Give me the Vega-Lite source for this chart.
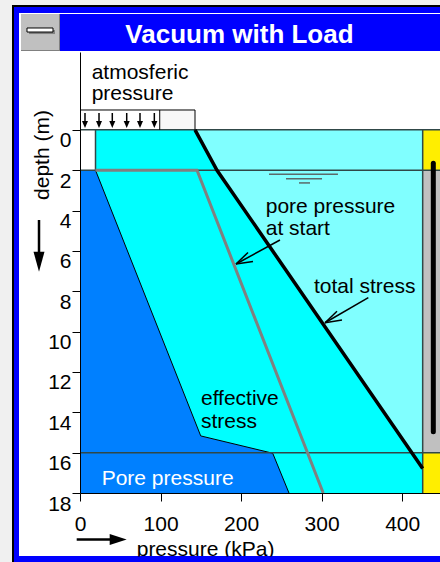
{
  "$schema": "https://vega.github.io/schema/vega-lite/v6.json",
  "width": 360,
  "height": 441,
  "autosize": {"type": "none"},
  "padding": {"left": 80, "top": 52, "right": 0, "bottom": 69},
  "background": "#f0f0f0",
  "config": {"view": {"stroke": null}, "font": "Liberation Sans"},
  "datasets": {
    "rects": [
      {"part": "outer", "p": -84.43, "p2": 460, "d": -6.19, "d2": 22},
      {"part": "border", "p": -81.95, "p2": 460, "d": -6.09, "d2": 22},
      {"part": "content", "p": -75.74, "p2": 460, "d": -5.79, "d2": 21.12},
      {"part": "titlebar", "p": -73.26, "p2": 460, "d": -5.74, "d2": -3.91},
      {"part": "menu shadow", "p": -73.26, "p2": -24.83, "d": -5.74, "d2": -3.91},
      {"part": "menu", "p": -73.26, "p2": -26.08, "d": -5.74, "d2": -3.96},
      {"part": "button shadow", "p": -63.33, "p2": -31.04, "d": -4.95, "d2": -4.75},
      {"part": "soil above", "p": 19.25, "p2": 425.5, "d": 0, "d2": 16},
      {"part": "soil below", "p": 19.25, "p2": 425.5, "d": 16, "d2": 18},
      {"part": "drain top", "p": 425.5, "p2": 460, "d": 0, "d2": 2},
      {"part": "drain", "p": 425.5, "p2": 460, "d": 2, "d2": 16},
      {"part": "drain bottom", "p": 425.5, "p2": 460, "d": 16, "d2": 18},
      {"part": "vacuum", "p": 0, "p2": 99, "d": -0.985, "d2": 0},
      {"part": "load", "p": 99, "p2": 142.8, "d": -0.985, "d2": 0}
    ],
    "cyanArea": [
      {"d": 0, "p": 19.25, "p2": 142.8},
      {"d": 2, "p": 19.25, "p2": 170.1},
      {"d": 16, "p": 19.25, "p2": 412.0}
    ],
    "blueArea": [
      {"d": 2, "p": 0, "p2": 19.25},
      {"d": 15.17, "p": 0, "p2": 149.9},
      {"d": 16.03, "p": 0, "p2": 239.3},
      {"d": 18, "p": 0, "p2": 259.5}
    ],
    "totalStress": [
      {"p": 142.8, "d": 0},
      {"p": 170.1, "d": 2},
      {"p": 425.5, "d": 16.78}
    ],
    "poreStart": [
      {"p": 19.25, "d": 2},
      {"p": 145.3, "d": 2},
      {"p": 302, "d": 18}
    ],
    "hlines": [
      {"p": 0, "p2": 460, "d": 0},
      {"p": 0, "p2": 460, "d": 2},
      {"p": 0, "p2": 460, "d": 16}
    ],
    "vlines": [
      {"p": 19.25, "d": 0, "d2": 2},
      {"p": 425.5, "d": 0, "d2": 18}
    ],
    "boxLines": [
      {"p": 0, "p2": 142.8, "d": -0.985, "d2": -0.985},
      {"p": 142.8, "p2": 142.8, "d": -0.985, "d2": 0},
      {"p": 99, "p2": 99, "d": -0.985, "d2": 0}
    ],
    "waterTable": [
      {"p": 234.7, "p2": 320.3, "d": 2.2},
      {"p": 255.8, "p2": 300.5, "d": 2.42},
      {"p": 271.9, "p2": 285.6, "d": 2.63}
    ],
    "gauge": [{"p": 438.7, "d": 1.66, "d2": 14.96}],
    "pointers": [
      {"p": 248.3, "d": 5.46, "p2": 193.7, "d2": 6.65},
      {"p": 193.7, "d": 6.65, "p2": 214.8, "d2": 6.525},
      {"p": 193.7, "d": 6.65, "p2": 208.6, "d2": 6.079},
      {"p": 358, "d": 8.32, "p2": 304.2, "d2": 9.56},
      {"p": 304.2, "d": 9.56, "p2": 325.3, "d2": 9.43},
      {"p": 304.2, "d": 9.56, "p2": 319.1, "d2": 8.99}
    ],
    "atmArrows": [
      {"p": 6.2, "d": -0.836, "d2": -0.266},
      {"p": 23.6, "d": -0.836, "d2": -0.266},
      {"p": 40.1, "d": -0.836, "d2": -0.266},
      {"p": 58, "d": -0.836, "d2": -0.266},
      {"p": 74.5, "d": -0.836, "d2": -0.266},
      {"p": 92.3, "d": -0.836, "d2": -0.266}
    ],
    "axisArrows": [
      {"dir": "down", "p": -50.9, "d": 4.468, "p2": -50.9, "d2": 6.535},
      {"dir": "right", "p": -4.1, "d": 20.3, "p2": 47.4, "d2": 20.3}
    ],
    "labels": [
      {"text": "atmosferic", "p": 14.5, "d": -2.541},
      {"text": "pressure", "p": 14.5, "d": -1.471},
      {"text": "pore pressure", "p": 230.6, "d": 4.10},
      {"text": "at start", "p": 230.6, "d": 5.21},
      {"text": "total stress", "p": 290.5, "d": 8.09},
      {"text": "effective", "p": 150.2, "d": 13.64},
      {"text": "stress", "p": 150.2, "d": 14.78},
      {"text": "pressure (kPa)", "p": 70.4, "d": 21.12}
    ],
    "whiteLabels": [{"text": "Pore pressure", "p": 26.9, "d": 17.6}],
    "yTitle": [{"text": "depth (m)", "p": -39.1, "d": 1.246}],
    "windowTitle": [{"text": "Vacuum with Load", "p": 198, "d": -4.291}],
    "button": [{"p": -65.81, "p2": -33.52, "d": -5.05, "d2": -4.85}],
    "bottomBorder": [{"p": -81.95, "p2": 460, "d": 21.15, "d2": 22}]
  },
  "layer": [
    {
      "data": {"name": "rects"},
      "mark": {"type": "rect"},
      "encoding": {
        "x": {
          "field": "p", "type": "quantitative",
          "scale": {"domain": [0, 447], "nice": false, "zero": false},
          "axis": {
            "values": [0, 100, 200, 300, 400], "title": null, "grid": false,
            "tickSize": 8, "labelPadding": 12, "labelDx": 4, "labelFontSize": 21,
            "labelFont": "Liberation Sans", "labelColor": "black", "tickColor": "black",
            "domainColor": "black", "labelFlush": false, "labelOverlap": false,
            "format": "d", "zindex": 1
          }
        },
        "x2": {"field": "p2"},
        "y": {
          "field": "d", "type": "quantitative",
          "scale": {"domain": [-3.86, 18], "reverse": true, "nice": false, "zero": false},
          "axis": {
            "values": [0, 2, 4, 6, 8, 10, 12, 14, 16, 18], "title": null, "grid": false,
            "tickSize": 8, "labelPadding": 1, "labelBaseline": "top", "labelDy": 1,
            "labelFontSize": 21, "labelFont": "Liberation Sans", "labelColor": "black",
            "tickColor": "black", "domainColor": "black", "labelFlush": false,
            "labelOverlap": false, "format": "d", "zindex": 1
          }
        },
        "y2": {"field": "d2"},
        "color": {
          "field": "part", "type": "nominal", "legend": null,
          "scale": {
            "domain": ["outer", "border", "content", "titlebar", "menu shadow", "menu", "button shadow", "soil above", "soil below", "drain top", "drain", "drain bottom", "vacuum", "load"],
            "range": ["#000000", "#0000ff", "#ffffff", "#0000ff", "#808080", "#c0c0c0", "#808080", "#80ffff", "#00ffff", "#ffee00", "#c0c0c0", "#ffee00", "#ffffff", "#f8f8f8"]
          }
        }
      }
    },
    {
      "data": {"name": "cyanArea"},
      "mark": {"type": "area", "orient": "horizontal", "color": "#00ffff"},
      "encoding": {
        "y": {"field": "d", "type": "quantitative"},
        "x": {"field": "p", "type": "quantitative", "stack": null},
        "x2": {"field": "p2"}
      }
    },
    {
      "data": {"name": "blueArea"},
      "mark": {"type": "area", "orient": "horizontal", "color": "#0080ff"},
      "encoding": {
        "y": {"field": "d", "type": "quantitative"},
        "x": {"field": "p", "type": "quantitative", "stack": null},
        "x2": {"field": "p2"}
      }
    },
    {
      "data": {"name": "blueArea"},
      "mark": {"type": "line", "color": "#000000", "strokeWidth": 1},
      "encoding": {
        "x": {"field": "p2", "type": "quantitative"},
        "y": {"field": "d", "type": "quantitative"}
      }
    },
    {
      "data": {"name": "hlines"},
      "mark": {"type": "rule", "color": "#304848", "strokeWidth": 1.5},
      "encoding": {
        "x": {"field": "p", "type": "quantitative"},
        "x2": {"field": "p2"},
        "y": {"field": "d", "type": "quantitative"}
      }
    },
    {
      "data": {"name": "vlines"},
      "mark": {"type": "rule", "color": "#304848", "strokeWidth": 1.5},
      "encoding": {
        "x": {"field": "p", "type": "quantitative"},
        "y": {"field": "d", "type": "quantitative"},
        "y2": {"field": "d2"}
      }
    },
    {
      "data": {"name": "boxLines"},
      "mark": {"type": "rule", "color": "#000000", "strokeWidth": 1},
      "encoding": {
        "x": {"field": "p", "type": "quantitative"},
        "x2": {"field": "p2"},
        "y": {"field": "d", "type": "quantitative"},
        "y2": {"field": "d2"}
      }
    },
    {
      "data": {"name": "waterTable"},
      "mark": {"type": "rule", "color": "#5a6a6a", "strokeWidth": 1.5},
      "encoding": {
        "x": {"field": "p", "type": "quantitative"},
        "x2": {"field": "p2"},
        "y": {"field": "d", "type": "quantitative"}
      }
    },
    {
      "data": {"name": "poreStart"},
      "mark": {"type": "line", "color": "#808080", "strokeWidth": 3},
      "encoding": {
        "x": {"field": "p", "type": "quantitative"},
        "y": {"field": "d", "type": "quantitative"}
      }
    },
    {
      "data": {"name": "totalStress"},
      "mark": {"type": "line", "color": "#000000", "strokeWidth": 3.5},
      "encoding": {
        "x": {"field": "p", "type": "quantitative"},
        "y": {"field": "d", "type": "quantitative"}
      }
    },
    {
      "data": {"name": "gauge"},
      "mark": {"type": "rule", "color": "#000000", "strokeWidth": 5, "strokeCap": "round"},
      "encoding": {
        "x": {"field": "p", "type": "quantitative"},
        "y": {"field": "d", "type": "quantitative"},
        "y2": {"field": "d2"}
      }
    },
    {
      "data": {"name": "pointers"},
      "mark": {"type": "rule", "color": "#000000", "strokeWidth": 1.5},
      "encoding": {
        "x": {"field": "p", "type": "quantitative"},
        "x2": {"field": "p2"},
        "y": {"field": "d", "type": "quantitative"},
        "y2": {"field": "d2"}
      }
    },
    {
      "data": {"name": "atmArrows"},
      "mark": {"type": "rule", "color": "#000000", "strokeWidth": 1.5},
      "encoding": {
        "x": {"field": "p", "type": "quantitative"},
        "y": {"field": "d", "type": "quantitative"},
        "y2": {"field": "d2"}
      }
    },
    {
      "data": {"name": "atmArrows"},
      "mark": {"type": "point", "shape": "M-0.86,-1L0.86,-1L0,1Z", "size": 49, "filled": true, "color": "#000000", "opacity": 1},
      "encoding": {
        "x": {"field": "p", "type": "quantitative"},
        "y": {"field": "d2", "type": "quantitative"}
      }
    },
    {
      "data": {"name": "axisArrows"},
      "mark": {"type": "rule", "color": "#000000", "strokeWidth": 2.5},
      "encoding": {
        "x": {"field": "p", "type": "quantitative"},
        "x2": {"field": "p2"},
        "y": {"field": "d", "type": "quantitative"},
        "y2": {"field": "d2"}
      }
    },
    {
      "data": {"name": "axisArrows"},
      "mark": {"type": "point", "size": 400, "filled": true, "color": "#000000", "opacity": 1},
      "encoding": {
        "x": {"field": "p2", "type": "quantitative"},
        "y": {"field": "d2", "type": "quantitative"},
        "shape": {
          "field": "dir", "type": "nominal", "legend": null,
          "scale": {"domain": ["down", "right"], "range": ["M-0.55,-1L0.55,-1L0,1Z", "M-0.85,-0.55L0.85,0L-0.85,0.55Z"]}
        }
      }
    },
    {
      "data": {"name": "labels"},
      "mark": {"type": "text", "align": "left", "baseline": "alphabetic", "fontSize": 21, "font": "Liberation Sans", "color": "#000000"},
      "encoding": {
        "x": {"field": "p", "type": "quantitative"},
        "y": {"field": "d", "type": "quantitative"},
        "text": {"field": "text"}
      }
    },
    {
      "data": {"name": "whiteLabels"},
      "mark": {"type": "text", "align": "left", "baseline": "alphabetic", "fontSize": 21, "font": "Liberation Sans", "color": "#ffffff"},
      "encoding": {
        "x": {"field": "p", "type": "quantitative"},
        "y": {"field": "d", "type": "quantitative"},
        "text": {"field": "text"}
      }
    },
    {
      "data": {"name": "yTitle"},
      "mark": {"type": "text", "align": "center", "baseline": "alphabetic", "angle": 270, "fontSize": 21, "font": "Liberation Sans", "color": "#000000"},
      "encoding": {
        "x": {"field": "p", "type": "quantitative"},
        "y": {"field": "d", "type": "quantitative"},
        "text": {"field": "text"}
      }
    },
    {
      "data": {"name": "button"},
      "mark": {"type": "rect", "fill": "#ffffff", "stroke": "#000000", "strokeWidth": 1},
      "encoding": {
        "x": {"field": "p", "type": "quantitative"},
        "x2": {"field": "p2"},
        "y": {"field": "d", "type": "quantitative"},
        "y2": {"field": "d2"}
      }
    },
    {
      "data": {"name": "windowTitle"},
      "mark": {"type": "text", "align": "center", "baseline": "alphabetic", "fontSize": 26, "fontWeight": "bold", "font": "Liberation Sans", "color": "#ffffff"},
      "encoding": {
        "x": {"field": "p", "type": "quantitative"},
        "y": {"field": "d", "type": "quantitative"},
        "text": {"field": "text"}
      }
    },
    {
      "data": {"name": "bottomBorder"},
      "mark": {"type": "rect", "color": "#0000ff"},
      "encoding": {
        "x": {"field": "p", "type": "quantitative"},
        "x2": {"field": "p2"},
        "y": {"field": "d", "type": "quantitative"},
        "y2": {"field": "d2"}
      }
    }
  ]
}
